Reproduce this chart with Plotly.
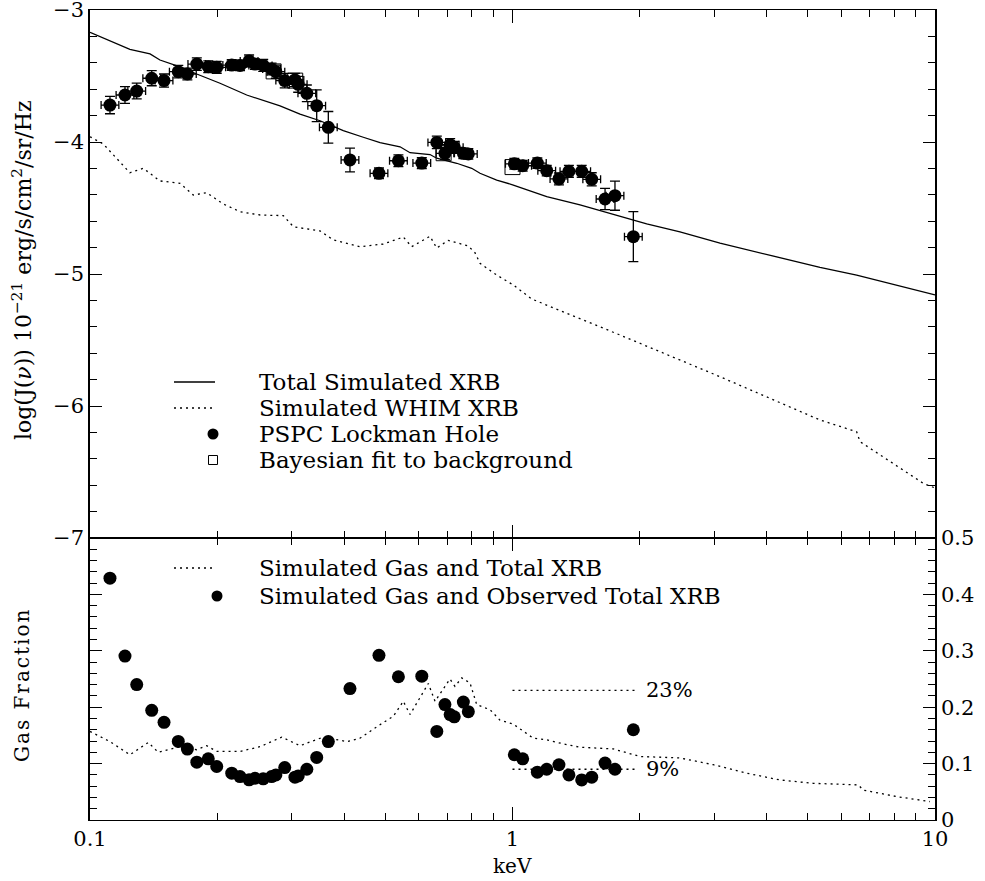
import plotly.graph_objects as go

# ---------------- data ----------------
energy_keV = [0.1115, 0.121, 0.129, 0.140, 0.1497, 0.1618, 0.170, 0.179, 0.1905, 0.1995,
              0.2165, 0.2265, 0.238, 0.2458, 0.257, 0.269, 0.2754, 0.289, 0.3055, 0.311,
              0.326, 0.344, 0.3665, 0.4124, 0.483, 0.537, 0.610, 0.662, 0.692, 0.712,
              0.728, 0.765, 0.786, 1.01, 1.057, 1.145, 1.205, 1.288, 1.36, 1.458,
              1.54, 1.656, 1.748, 1.932]
logJ_obs = [-3.72, -3.644, -3.614, -3.517, -3.535, -3.467, -3.485, -3.41, -3.43, -3.434,
            -3.417, -3.42, -3.386, -3.41, -3.42, -3.447, -3.467, -3.535, -3.53, -3.563,
            -3.631, -3.725, -3.889, -4.136, -4.237, -4.142, -4.16, -4.003, -4.086, -4.02,
            -4.04, -4.086, -4.09, -4.165, -4.18, -4.16, -4.217, -4.28, -4.222, -4.222,
            -4.283, -4.432, -4.407, -4.717]
logJ_err = [0.066, 0.063, 0.06, 0.057, 0.05, 0.047, 0.045, 0.047, 0.045, 0.045,
            0.04, 0.04, 0.045, 0.04, 0.045, 0.045, 0.05, 0.055, 0.05, 0.06,
            0.063, 0.12, 0.12, 0.09, 0.04, 0.045, 0.042, 0.047, 0.045, 0.045,
            0.045, 0.04, 0.04, 0.04, 0.04, 0.04, 0.04, 0.045, 0.045, 0.045,
            0.05, 0.08, 0.11, 0.19]
energy_bin_halfwidth_dex = 0.021

bayes_keV = [0.272, 0.306, 0.687, 1.0]
bayes_logJ = [-3.465, -3.535, -4.085, -4.19]

total_xrb_keV = [0.1, 0.1243, 0.1387, 0.1464, 0.1633, 0.1789, 0.2031, 0.2349, 0.2817, 0.3141,
                 0.3503, 0.3976, 0.4434, 0.4858, 0.5418, 0.5721, 0.6379, 0.6616, 0.7379, 0.8006,
                 0.8377, 0.9176, 1.0045, 1.1, 1.205, 1.445, 1.732, 2.078, 2.491, 3.098,
                 5.343, 6.525, 10.0]
total_xrb_logJ = [-3.169, -3.298, -3.333, -3.379, -3.43, -3.485, -3.555, -3.644, -3.727, -3.788,
                  -3.839, -3.914, -3.964, -4.005, -4.036, -4.081, -4.095, -4.123, -4.161, -4.199,
                  -4.237, -4.288, -4.326, -4.369, -4.414, -4.477, -4.548, -4.621, -4.680, -4.767,
                  -4.949, -5.008, -5.159]

whim_keV = [0.1, 0.1075, 0.1243, 0.1337, 0.1464, 0.1633, 0.1756, 0.1889, 0.2068, 0.2265,
            0.2526, 0.2868, 0.3029, 0.3503, 0.3766, 0.4355, 0.4945, 0.5515, 0.5773, 0.6379,
            0.6616, 0.7047, 0.786, 0.8151, 0.8377, 0.9176, 1.0045, 1.110, 1.796, 3.098,
            5.343, 6.525, 6.645, 9.382, 10.0]
whim_logJ = [-3.960, -4.015, -4.233, -4.199, -4.295, -4.313, -4.402, -4.384, -4.470, -4.528,
             -4.553, -4.558, -4.642, -4.674, -4.742, -4.793, -4.773, -4.720, -4.793, -4.714,
             -4.803, -4.745, -4.788, -4.839, -4.919, -5.008, -5.083, -5.189, -5.462, -5.778,
             -6.106, -6.195, -6.27, -6.586, -6.621]

gasfrac_obs = [0.4288, 0.2906, 0.2402, 0.1945, 0.1732, 0.1393, 0.1258, 0.1026, 0.1085, 0.0949,
               0.083, 0.077, 0.0712, 0.074, 0.073, 0.077, 0.080, 0.093, 0.076, 0.078,
               0.090, 0.111, 0.139, 0.233, 0.292, 0.254, 0.255, 0.157, 0.2046, 0.187,
               0.183, 0.209, 0.192, 0.1157, 0.1085, 0.0848, 0.090, 0.098, 0.080, 0.071,
               0.076, 0.101, 0.090, 0.160]

gasfrac_sim_keV = [0.1, 0.1115, 0.1243, 0.1374, 0.1451, 0.1633, 0.1789, 0.1889, 0.1995, 0.2265,
                   0.2526, 0.2843, 0.3141, 0.3566, 0.4051, 0.4355, 0.4858, 0.5224, 0.5515, 0.5721,
                   0.6320, 0.6556, 0.7112, 0.7308, 0.7583, 0.7932, 0.8228, 0.8846, 0.934, 1.0045,
                   1.120, 1.205, 1.319, 1.445, 1.732, 2.003, 2.491, 2.988, 3.583, 4.297,
                   5.151, 6.582, 6.765, 8.117, 9.73]
gasfrac_sim = [0.157, 0.139, 0.1157, 0.1375, 0.120, 0.130, 0.1246, 0.1317, 0.1216, 0.1216,
               0.130, 0.147, 0.1317, 0.147, 0.139, 0.145, 0.169, 0.184, 0.2105, 0.187,
               0.242, 0.2105, 0.250, 0.237, 0.252, 0.243, 0.2046, 0.1957, 0.177, 0.170,
               0.145, 0.142, 0.135, 0.129, 0.126, 0.1126, 0.110, 0.098, 0.083, 0.071,
               0.065, 0.0623, 0.053, 0.0415, 0.0326]

mean_level_keV = [1.0, 1.97]
mean_levels = [0.23, 0.09]
mean_level_labels = ["23%", "9%"]

# ---------------- layout geometry ----------------
W, H = 985, 881
ML, MR, MT, MB = 90, 50, 10, 61
PW, PH = W - ML - MR, H - MT - MB
SPLIT = 282 / PH   # bottom panel fraction

def px(xp):
    return (xp - ML) / PW

def py(yp):
    return (H - MB - yp) / PH

FONT = "DejaVu Serif"
TXT = 23
DOT = "2px,4px"

xerr_plus = [e * (10 ** energy_bin_halfwidth_dex - 1) for e in energy_keV]
xerr_minus = [e * (1 - 10 ** -energy_bin_halfwidth_dex) for e in energy_keV]

fig = go.Figure()

# top panel
fig.add_trace(go.Scatter(x=total_xrb_keV, y=total_xrb_logJ, mode="lines",
                         line=dict(color="black", width=1.3), xaxis="x2", yaxis="y2"))
fig.add_trace(go.Scatter(x=whim_keV, y=whim_logJ, mode="lines",
                         line=dict(color="black", width=1.3, dash=DOT), xaxis="x2", yaxis="y2"))
fig.add_trace(go.Scatter(x=bayes_keV, y=bayes_logJ, mode="markers",
                         marker=dict(symbol="square-open", size=15, color="black", line=dict(width=1)),
                         xaxis="x2", yaxis="y2"))
fig.add_trace(go.Scatter(x=energy_keV, y=logJ_obs, mode="markers",
                         marker=dict(symbol="circle", size=13, color="black"),
                         error_y=dict(type="data", array=logJ_err, color="black", thickness=1.3, width=5),
                         error_x=dict(type="data", array=xerr_plus, arrayminus=xerr_minus,
                                      color="black", thickness=1.3, width=4),
                         xaxis="x2", yaxis="y2"))

# bottom panel
fig.add_trace(go.Scatter(x=gasfrac_sim_keV, y=gasfrac_sim, mode="lines",
                         line=dict(color="black", width=1.3, dash=DOT), xaxis="x", yaxis="y"))
for lev in mean_levels:
    fig.add_trace(go.Scatter(x=mean_level_keV, y=[lev, lev], mode="lines",
                             line=dict(color="black", width=1.3, dash=DOT), xaxis="x", yaxis="y"))
fig.add_trace(go.Scatter(x=energy_keV, y=gasfrac_obs, mode="markers",
                         marker=dict(symbol="circle", size=13, color="black"), xaxis="x", yaxis="y"))

minor_x = [0.2, 0.3, 0.4, 0.5, 0.6, 0.7, 0.8, 0.9, 2, 3, 4, 5, 6, 7, 8, 9]
tickfont = dict(family=FONT, size=21, color="black")

xcommon = dict(type="log", range=[-1, 1], tickmode="array", tickvals=[0.1, 1, 10],
               ticks="inside", ticklen=13, tickwidth=1.3, tickcolor="black",
               showline=True, linecolor="black", linewidth=1.3, mirror="allticks",
               showgrid=False, zeroline=False, ticklabeloverflow="allow",
               minor=dict(tickmode="array", tickvals=minor_x, ticks="inside", ticklen=7,
                          tickwidth=1.3, tickcolor="black", showgrid=False))
ycommon = dict(ticks="inside", ticklen=12, tickwidth=1.3, tickcolor="black",
               showline=True, linecolor="black", linewidth=1.6, mirror="allticks",
               showgrid=False, zeroline=False, tickfont=tickfont, ticklabeloverflow="allow")

fig.update_layout(
    width=W, height=H,
    margin=dict(l=ML, r=MR, t=MT, b=MB, autoexpand=False),
    paper_bgcolor="white", plot_bgcolor="white",
    showlegend=False,
    font=dict(family=FONT, size=TXT, color="black"),
    xaxis=dict(**xcommon, domain=[0, 1], anchor="y", ticktext=["0.1", "1", "10"],
               tickfont=tickfont),
    xaxis2=dict(**xcommon, domain=[0, 1], anchor="y2", matches="x", showticklabels=False),
    yaxis=dict(**ycommon, domain=[0, SPLIT], anchor="x", range=[0, 0.5], side="right",
               tickmode="linear", tick0=0, dtick=0.1,
               minor=dict(ticks="inside", ticklen=7, tickwidth=1.3, tickcolor="black",
                          dtick=0.02, showgrid=False)),
    yaxis2=dict(**ycommon, domain=[SPLIT, 1], anchor="x2", range=[-7, -3],
                tickmode="linear", tick0=-7, dtick=1,
                minor=dict(ticks="inside", ticklen=7, tickwidth=1.3, tickcolor="black",
                           dtick=0.2, showgrid=False)),
)

ann = []
# axis titles
ann.append(dict(text="log(J(<i>ν</i>)) 10<sup>−21</sup> erg/s/cm<sup>2</sup>/sr/Hz",
                xref="paper", yref="paper", x=px(22), y=py(270), textangle=-90,
                showarrow=False, xanchor="center", yanchor="middle",
                font=dict(family=FONT, size=22)))
ann.append(dict(text="G\u200aa\u200as\u2009 F\u200ar\u200aa\u200ac\u200at\u200ai\u200ao\u200an",
                xref="paper", yref="paper", x=px(22), y=py(686), textangle=-90,
                showarrow=False, xanchor="center", yanchor="middle",
                font=dict(family=FONT, size=20)))
ann.append(dict(text="keV", xref="paper", yref="paper", x=px(512), y=py(866),
                showarrow=False, xanchor="center", yanchor="middle",
                font=dict(family=FONT, size=20)))

# legends
top_rows = [(382, "Total Simulated XRB"), (408, "Simulated WHIM XRB"),
            (434, "PSPC Lockman Hole"), (460, "Bayesian fit to background")]
for yrow, t in top_rows:
    ann.append(dict(text=t, xref="paper", yref="paper", x=px(257), y=py(yrow),
                    showarrow=False, xanchor="left", yanchor="middle"))
bot_rows = [(568, "Simulated Gas and Total XRB"), (596, "Simulated Gas and Observed Total XRB")]
for yrow, t in bot_rows:
    ann.append(dict(text=t, xref="paper", yref="paper", x=px(257), y=py(yrow),
                    showarrow=False, xanchor="left", yanchor="middle"))

# level labels
for lev, lab in zip(mean_levels, mean_level_labels):
    ann.append(dict(text=lab, xref="x", yref="y", x=0.3118, y=lev, showarrow=False,
                    xanchor="left", yanchor="middle", font=dict(family=FONT, size=21)))

fig.update_layout(annotations=ann)

shapes = []
shapes.append(dict(type="line", xref="paper", yref="paper", x0=px(174), x1=px(215),
                   y0=py(382), y1=py(382), line=dict(color="black", width=1.3)))
shapes.append(dict(type="line", xref="paper", yref="paper", x0=px(174), x1=px(215),
                   y0=py(408), y1=py(408), line=dict(color="black", width=1.3, dash=DOT)))
r = 5.5
shapes.append(dict(type="circle", xref="paper", yref="paper", x0=px(213 - r), x1=px(213 + r),
                   y0=py(434 + r), y1=py(434 - r), fillcolor="black", line=dict(color="black", width=0)))
s = 4.5
shapes.append(dict(type="rect", xref="paper", yref="paper", x0=px(213 - s), x1=px(213 + s),
                   y0=py(460 + s), y1=py(460 - s), line=dict(color="black", width=1)))
shapes.append(dict(type="line", xref="paper", yref="paper", x0=px(174), x1=px(215),
                   y0=py(568), y1=py(568), line=dict(color="black", width=1.3, dash=DOT)))
shapes.append(dict(type="circle", xref="paper", yref="paper", x0=px(217 - r), x1=px(217 + r),
                   y0=py(596 + r), y1=py(596 - r), fillcolor="black", line=dict(color="black", width=0)))
fig.update_layout(shapes=shapes)

fig.write_html("out.html", config={"displayModeBar": False},
               post_script="document.body.style.margin='0';")
